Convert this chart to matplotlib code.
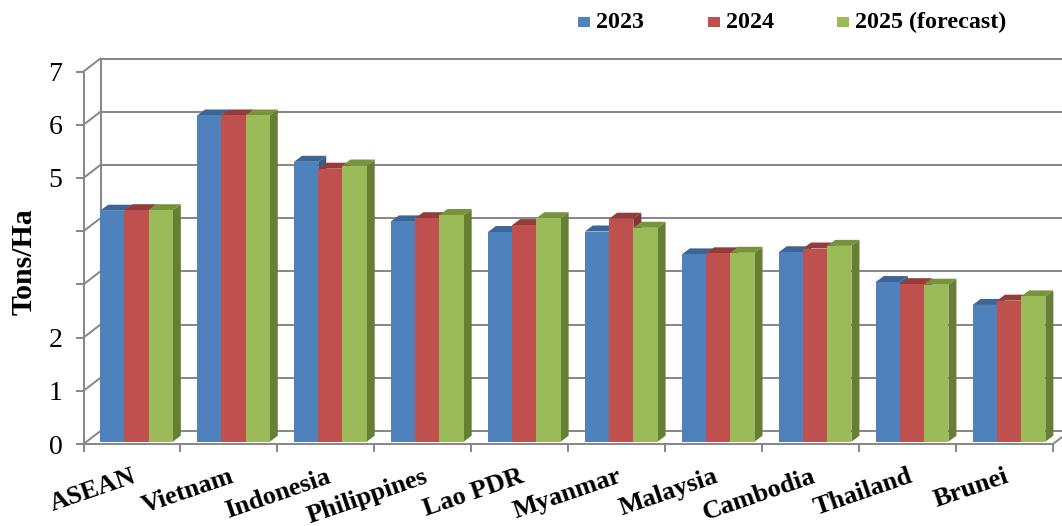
import numpy as np
import matplotlib
matplotlib.use('Agg')
import matplotlib.pyplot as plt
from matplotlib.patches import Rectangle, Polygon

countries = ['ASEAN', 'Vietnam', 'Indonesia', 'Philippines', 'Lao PDR',
             'Myanmar', 'Malaysia', 'Cambodia', 'Thailand', 'Brunei']
y2023 = [4.34, 6.13, 5.26, 4.14, 3.94, 3.95, 3.52, 3.56, 3.00, 2.57]
y2024 = [4.35, 6.13, 5.13, 4.20, 4.07, 4.19, 3.54, 3.63, 2.96, 2.65]
y2025 = [4.35, 6.13, 5.19, 4.26, 4.20, 4.02, 3.55, 3.68, 2.95, 2.73]
series_names = ['2023', '2024', '2025 (forecast)']
y_ticks = [0, 1, 2, 3, 4, 5, 6, 7]
y_ticklabels = ['0', '1', '2', '', '', '5', '6', '7']

# front, top, side colours per series
colors = [('#4F81BD', '#3C6696', '#375D8A'),
          ('#C0504D', '#943C3A', '#843533'),
          ('#9BBB59', '#77933C', '#667F35')]
GRID = '#898989'

W, H = 1062, 526
X0, X1 = 83.5, 1053
Y0, Y7 = 444, 71.5


def draw_bar(ax, x, w, v, cols, by, tdx, tdy):
    front, top, side = cols
    ax.add_patch(Polygon([(x + w, by), (x + w + tdx, by + tdy),
                          (x + w + tdx, by + v + tdy), (x + w, by + v)],
                         closed=True, fc=side, ec='none', clip_on=False, zorder=3))
    ax.add_patch(Polygon([(x, by + v), (x + w, by + v),
                          (x + w + tdx, by + v + tdy), (x + tdx, by + v + tdy)],
                         closed=True, fc=top, ec='none', clip_on=False, zorder=3))
    ax.add_patch(Rectangle((x, by), w, v, fc=front, ec='none',
                           clip_on=False, zorder=3))


def main():
    plt.rcParams['font.family'] = ['Liberation Serif', 'DejaVu Serif']
    fig = plt.figure(figsize=(W / 100, H / 100), dpi=100)
    ax = fig.add_axes([X0 / W, (H - Y0) / H, (X1 - X0) / W, (Y0 - Y7) / H])
    n = len(countries)
    ax.set_xlim(0, n)
    ax.set_ylim(0, 7)

    ux = n / (X1 - X0)
    uy = 7 / (Y0 - Y7)
    dxw, dyw = 17 * ux, 13 * uy
    lw = 1.45

    # back wall, left wall and floor
    for k in y_ticks:
        ax.plot([dxw, n + dxw + 1], [k + dyw, k + dyw], color=GRID, lw=lw,
                clip_on=False, zorder=1, solid_capstyle='butt')
        ax.plot([0, dxw], [k, k + dyw], color=GRID, lw=lw, clip_on=False, zorder=1)
    ax.plot([dxw, dxw], [dyw, 7 + dyw], color=GRID, lw=lw, clip_on=False, zorder=1)
    ax.plot([n, n + dxw], [0, dyw], color=GRID, lw=lw, clip_on=False, zorder=1)

    bx, by = 4.5 * ux, 2.3 * uy
    tdx, tdy = 8 * ux, 6 * uy
    bw = 0.25
    data = [y2023, y2024, y2025]
    for i in range(n):
        for j in range(3):
            draw_bar(ax, i + 0.125 + j * bw + bx, bw, data[j][i], colors[j],
                     by, tdx, tdy)

    for s in ['top', 'right']:
        ax.spines[s].set_visible(False)
    for s in ['left', 'bottom']:
        ax.spines[s].set_color(GRID)
        ax.spines[s].set_linewidth(lw)
        ax.spines[s].set_zorder(4)
    ax.patch.set_visible(False)

    ax.set_yticks(y_ticks, labels=y_ticklabels)
    ax.tick_params(axis='y', length=5.8, width=lw, color=GRID, pad=9.5,
                   labelsize=20)
    ax.set_xticks(np.arange(n + 1), labels=[])
    ax.set_xticks(np.arange(n) + 0.5, labels=countries, minor=True)
    ax.tick_params(axis='x', which='major', length=5.8, width=lw, color=GRID)
    ax.tick_params(axis='x', which='minor', length=0, pad=15, labelsize=19)
    plt.setp(ax.get_xticklabels(minor=True), rotation=19, ha='right', va='top',
             rotation_mode='anchor', fontweight='bold')

    ax.set_ylabel('Tons/Ha', fontsize=21.5, fontweight='bold')
    ax.yaxis.set_label_coords(-(X0 - 38) / (X1 - X0), 0.49)

    # legend
    sq_x = [578, 708, 837]
    for j, name in enumerate(series_names):
        fig.add_artist(Rectangle((sq_x[j] / W, 1 - 27.3 / H), 11.7 / W, 10.6 / H,
                                 transform=fig.transFigure, fc=colors[j][0], ec='none'))
        fig.text((sq_x[j] + 18) / W, 1 - 28.3 / H, name, fontsize=17.3,
                 fontweight='bold', va='baseline', ha='left')

    fig.savefig('out.png', dpi=100)


if __name__ == '__main__':
    main()
